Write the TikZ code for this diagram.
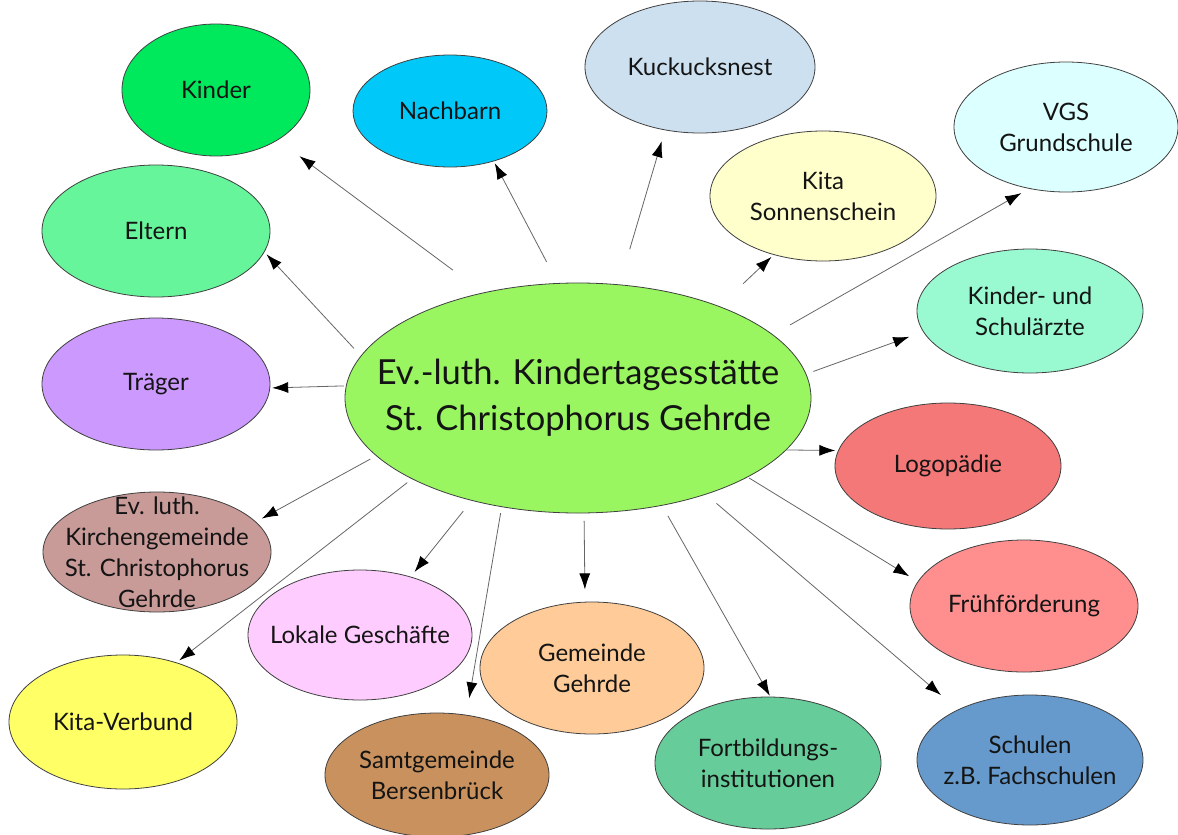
\documentclass[tikz,border=0pt]{standalone}
\usepackage{fontspec}
\setmainfont{Lato}
\usetikzlibrary{shapes.geometric,arrows.meta}
\definecolor{cmain}{HTML}{99F660}
\definecolor{ckinder}{HTML}{00E85C}
\definecolor{cnach}{HTML}{00C8F8}
\definecolor{ckuck}{HTML}{CDE0F0}
\definecolor{csonne}{HTML}{FFFFCC}
\definecolor{cvgs}{HTML}{DCFFFF}
\definecolor{carzt}{HTML}{99FAD2}
\definecolor{clogo}{HTML}{F47878}
\definecolor{cfrueh}{HTML}{FF8F8F}
\definecolor{cschul}{HTML}{6699CC}
\definecolor{cfort}{HTML}{66CC99}
\definecolor{cgem}{HTML}{FFCC99}
\definecolor{csamt}{HTML}{C8915E}
\definecolor{clok}{HTML}{FFCCFF}
\definecolor{cverb}{HTML}{FFFF66}
\definecolor{ckirch}{HTML}{C89A98}
\definecolor{ctraeg}{HTML}{CC99FF}
\definecolor{celt}{HTML}{66F59A}
\tikzset{
  ell/.style 2 args={ellipse, draw=black!75, line width=0.8pt, inner sep=0pt,
    minimum width=#1pt, minimum height=#2pt},
  lbl/.style={align=center, font=\fontsize{24}{31}\selectfont, text=black!92, inner sep=0pt},
  biglbl/.style={align=center, font=\fontsize{34.5}{46}\selectfont, text=black!92, inner sep=0pt},
  arr/.style={draw=black!60, line width=0.8pt, -{Latex[length=16pt,width=11pt,color=black]}}
}
\begin{document}
\begin{tikzpicture}[x=1pt,y=-1pt]
\fill[white] (0,0) rectangle (1178,835);
\useasboundingbox (0,0) rectangle (1178,835);

\node[ell={466}{230}, fill=cmain, label={[biglbl]center:Ev.-luth. Kindertagesstätte\\St. Christophorus Gehrde}] (c) at (578,398) {};

\node[ell={188}{132}, fill=ckinder, label={[lbl]center:Kinder}] (kinder) at (216,90) {};
\node[ell={194}{112}, fill=cnach, label={[lbl]center:Nachbarn}] (nach) at (450,111) {};
\node[ell={230}{132}, fill=ckuck, label={[lbl]center:Kuckucksnest}] (kuck) at (700,67) {};
\node[ell={226}{130}, fill=csonne, label={[lbl]center:Kita\\Sonnenschein}] (sonne) at (823,196) {};
\node[ell={224}{130}, fill=cvgs, label={[lbl]center:VGS\\Grundschule}] (vgs) at (1066,127) {};
\node[ell={226}{124}, fill=carzt, label={[lbl]center:Kinder- und\\Schulärzte}] (arzt) at (1030,311) {};
\node[ell={226}{126}, fill=clogo, label={[lbl]center:Logopädie}] (logo) at (948,466) {};
\node[ell={228}{132}, fill=cfrueh, label={[lbl]center:Frühförderung}] (frueh) at (1024,606) {};
\node[ell={226}{130}, fill=cschul, label={[lbl]center:Schulen\\z.B. Fachschulen}] (schul) at (1030,760) {};
\node[ell={226}{132}, fill=cfort, label={[lbl]center:Fortbildungs-\\institutionen}] (fort) at (768,763) {};
\node[ell={224}{132}, fill=cgem, label={[lbl]center:Gemeinde\\Gehrde}] (gem) at (592,668) {};
\node[ell={224}{124}, fill=csamt, label={[lbl]center:Samtgemeinde\\Bersenbrück}] (samt) at (437,775) {};
\node[ell={224}{130}, fill=clok, label={[lbl]center:Lokale Geschäfte}] (lok) at (360,635) {};
\node[ell={228}{134}, fill=cverb, label={[lbl]center:Kita-Verbund}] (verb) at (123,722) {};
\node[ell={228}{120}, fill=ckirch, label={[lbl]center:Ev. luth.\\Kirchengemeinde\\St. Christophorus\\Gehrde}] (kirch) at (157,552) {};
\node[ell={228}{132}, fill=ctraeg, label={[lbl]center:Träger}] (traeg) at (156,384) {};
\node[ell={228}{132}, fill=celt, label={[lbl]center:Eltern}] (elt) at (156,231) {};

\draw[arr, shorten <=37.6pt, shorten >=26.8pt] (c.132.1) -- (kinder.-39.3);
\draw[arr, shorten <=23.9pt, shorten >=2pt] (c.100.3) -- (nach.-49.4);
\draw[arr, shorten <=36.7pt, shorten >=11.4pt] (c.70.6) -- (kuck.241.3);
\draw[arr, shorten <=32.6pt, shorten >=2.9pt] (c.33.4) -- (sonne.230.7);
\draw[arr, shorten <=19.7pt, shorten >=8.8pt] (c.18.9) -- (vgs.239.3);
\draw[arr, shorten <=7.5pt, shorten >=14.7pt] (c.6.8) -- (arzt.191.8);
\draw[arr, shorten <=0pt, shorten >=2.7pt] (c.-14.8) -- (logo.172.9);
\draw[arr, shorten <=1.5pt, shorten >=9.9pt] (c.-25.2) -- (frueh.167.4);
\draw[arr, shorten <=13.7pt, shorten >=22.3pt] (c.-37.5) -- (schul.145);
\draw[arr, shorten <=11.8pt, shorten >=1pt] (c.-52.7) -- (fort.88.3);
\draw[arr, shorten <=7.4pt, shorten >=12.3pt] (c.-87.7) -- (gem.96.6);
\draw[arr, shorten <=6.1pt, shorten >=16.7pt] (c.235.6) -- (samt.64.4);
\draw[arr, shorten <=13.5pt, shorten >=6pt] (c.224.3) -- (lok.49.9);
\draw[arr, shorten <=5.8pt, shorten >=3.4pt] (c.206.8) -- (verb.48.4);
\draw[arr, shorten <=6.6pt, shorten >=6.6pt] (c.196.8) -- (kirch.17);
\draw[arr, shorten <=2pt, shorten >=2pt] (c.177.6) -- (traeg.-2);
\draw[arr, shorten <=10pt, shorten >=3pt] (c.169.5) -- (elt.-11.2);
\end{tikzpicture}
\end{document}
